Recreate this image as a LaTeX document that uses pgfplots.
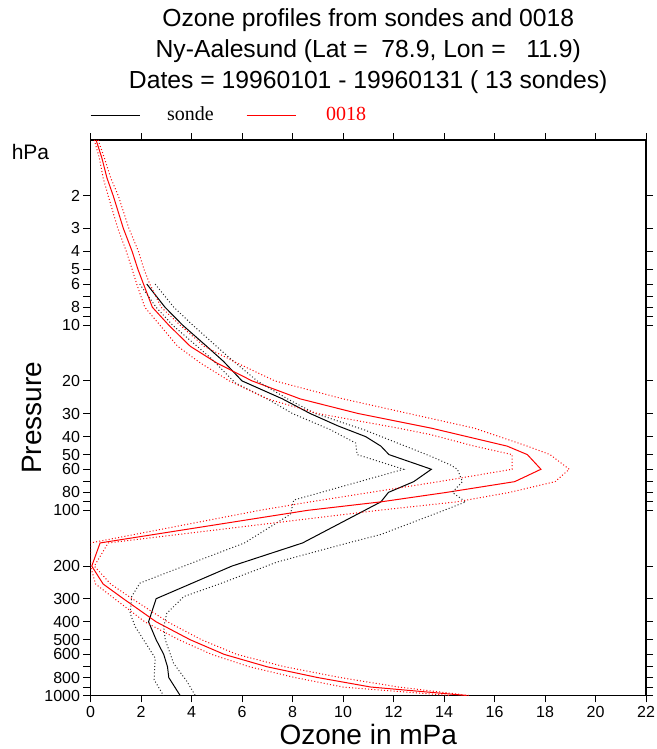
\documentclass[border=0pt]{standalone}
\usepackage{pgfplots}
\pgfplotsset{compat=1.18}
\usepackage{fontspec}
\setmainfont{Liberation Sans}
\newfontfamily\timesfont{Liberation Serif}
\pgfplotsset{
    sdline/.style={line width=1pt, dash pattern=on 1pt off 2.2pt},
}

\begin{document}
\begin{tikzpicture}
\path[use as bounding box] (-90.5pt,-53.5pt) rectangle (565.5pt,695.5pt);
\begin{axis}[
    name=ax, at={(0pt,0pt)}, anchor=south west,
    scale only axis, width=555.5pt, height=555.5pt,
    xmin=0, xmax=22, ymin=1, ymax=1000,
    ymode=log, y dir=reverse,
    xtick={0,2,...,22},
    ytick={2,3,4,5,6,8,10,20,30,40,50,60,80,100,200,300,400,500,600,800,1000},
    yticklabels={2,3,4,5,6,8,10,20,30,40,50,60,80,100,200,300,400,500,600,800,1000},
    minor ytick={7,9,70,90,700,900},
    tick align=outside, tick pos=both,
    major tick length=7pt, minor tick length=7pt,
    axis line style={line width=1.2pt},
    every tick/.style={line width=1pt, black},
    every minor tick/.style={line width=1pt, black},
    ticklabel style={font=\fontsize{16}{16}\selectfont},
    /pgf/number format/assume math mode=true,
]
% sonde mean
\addplot[black, line width=1pt] coordinates {
 (2.23,6) (2.95,8) (3.65,10) (4.6,13) (5.27,15.7) (6.0,20) (7.6,25) (8.7,30)
 (9.8,35) (10.9,40) (11.5,45) (11.82,50) (13.5,60) (12.8,70) (11.8,80)
 (11.5,90) (8.4,150) (5.6,200) (2.6,300) (2.3,400) (2.6,500) (2.9,600)
 (3.05,700) (3.1,800) (3.55,1000)};
% 0018 mean
\addplot[red, line width=1pt] coordinates {
 (0.22,1) (0.45,1.25) (0.65,1.6) (0.9,2) (1.3,3) (1.65,4) (1.88,5) (2.1,6)
 (2.45,8) (3.1,10) (3.95,13) (5.0,16) (6.4,20) (8.3,25) (10.6,30) (13.5,36)
 (16.5,45) (17.3,50) (17.84,60) (16.8,70) (14.1,80) (11.5,90) (8.6,100)
 (0.38,150) (0.05,200) (0.5,250) (1.3,300) (2.6,400) (3.95,500) (5.3,600)
 (7.0,700) (9.0,800) (11.1,900) (14.9,1000)};
% sonde +/- sd
\addplot[black!85, sdline] coordinates {
 (2.56,6) (3.3,8) (4.05,10) (5.5,15) (6.6,20) (7.8,25) (8.9,30) (10.83,36.7)
 (13.47,51) (14.26,56.9) (14.53,60) (14.73,70) (14.33,80) (14.86,90)
 (14.0,100) (11.5,135) (10.2,150) (7.4,190) (5.1,250) (3.7,292) (3.02,360)
 (2.9,425) (2.96,500) (3.29,670) (3.82,840) (4.15,1000)};
\addplot[black!85, sdline] coordinates {
 (1.95,6) (2.6,8) (3.25,10) (4.75,15) (5.73,20.5) (7.0,25) (8.0,30) (9.5,36.7)
 (10.5,43.3) (10.56,50) (12.4,60) (8.05,88) (7.92,105) (6.1,150) (3.7,200)
 (1.96,247) (1.63,292) (1.57,360) (1.77,425) (2.56,627) (2.52,822) (2.89,1000)};
% 0018 +/- sd
\addplot[red, sdline] coordinates {
 (0.3,1) (0.55,1.25) (0.8,1.6) (1.1,2) (1.52,3) (1.9,4) (2.12,5) (2.35,6)
 (2.8,8) (3.55,10) (4.5,13) (5.8,16) (7.3,20) (10.0,25) (12.6,30) (15.2,36)
 (17.3,45) (18.2,50) (18.96,60) (18.4,70) (16.6,80) (14.5,90) (11.4,100)
 (0.7,150) (0.15,200) (0.8,250) (1.65,300) (3.05,400) (4.4,500) (5.8,600)
 (7.7,700) (9.9,800) (12.2,900) (15.0,1000)};
\addplot[red, sdline] coordinates {
 (0.15,1) (0.35,1.25) (0.5,1.6) (0.7,2) (1.08,3) (1.42,4) (1.65,5) (1.83,6)
 (2.15,8) (2.75,10) (3.45,13) (4.35,16) (5.5,20) (7.0,25) (9.0,30) (12.2,36)
 (13.47,39) (15.2,45) (16.7,50) (16.7,60) (13.8,70) (11.1,80) (8.7,90)
 (6.7,100) (0.0,150) (0.0,200) (0.2,250) (0.95,300) (2.15,400) (3.5,500)
 (4.8,600) (6.3,700) (8.1,800) (10.0,900) (14.2,1000)};
\end{axis}
% legend
\draw[black, line width=1pt] ([yshift=24.5pt]ax.north west) -- ++(49.4pt,0pt);
\node[anchor=base west, inner sep=0pt, font=\timesfont\fontsize{20}{20}\selectfont]
    at ([xshift=76.5pt,yshift=19.5pt]ax.north west) {sonde};
\draw[red, line width=1.2pt] ([xshift=156.1pt,yshift=24.5pt]ax.north west) -- ++(49.4pt,0pt);
\node[anchor=base west, inner sep=0pt, text=red, font=\timesfont\fontsize{20}{20}\selectfont]
    at ([xshift=235.5pt,yshift=19.5pt]ax.north west) {0018};
% titles and labels
\begin{scope}[font=\fontsize{24.7}{24.7}\selectfont]
\node[anchor=base, inner sep=0pt] at ([yshift=113pt]ax.north) {Ozone profiles from sondes and 0018};
\node[anchor=base, inner sep=0pt] at ([yshift=82pt]ax.north) {Ny-Aalesund (Lat =\ \ 78.9, Lon =\ \ \ 11.9)};
\node[anchor=base, inner sep=0pt] at ([yshift=51pt]ax.north) {Dates = 19960101 - 19960131 ( 13 sondes)};
\end{scope}
\node[anchor=base, inner sep=0pt, font=\fontsize{28}{28}\selectfont] at ([yshift=-48.5pt]ax.south) {Ozone in mPa};
\node[anchor=base, inner sep=0pt, rotate=90, font=\fontsize{28}{28}\selectfont] at ([xshift=-48.8pt]ax.west) {Pressure};
\node[anchor=base, inner sep=0pt, font=\fontsize{21}{21}\selectfont] at ([xshift=-60pt,yshift=-20pt]ax.north west) {hPa};
\end{tikzpicture}
\end{document}
